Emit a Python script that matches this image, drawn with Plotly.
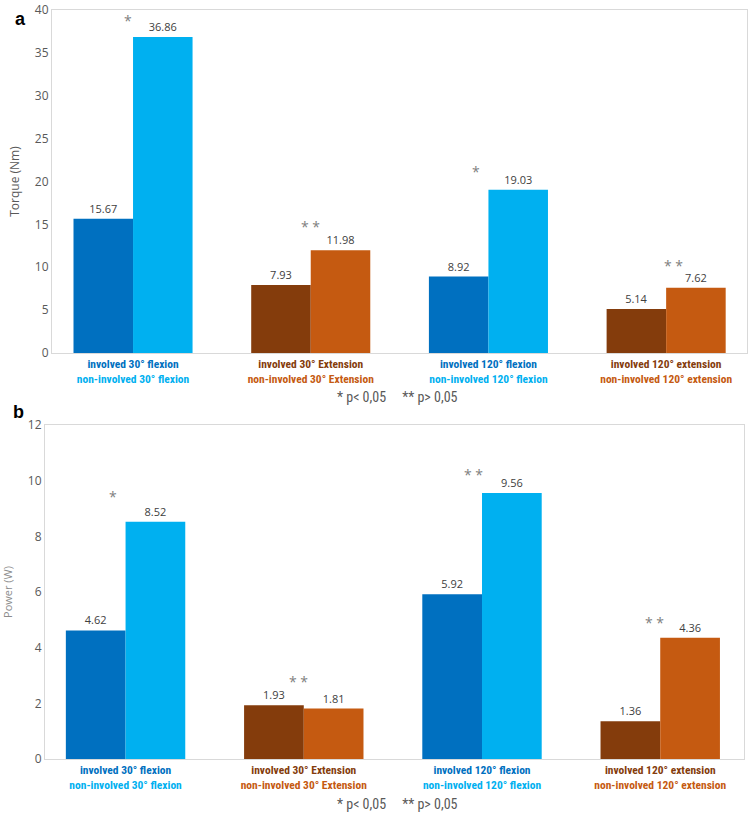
import plotly.graph_objects as go

# ---------------- data ----------------
categories = ["30° flexion", "30° Extension", "120° flexion", "120° extension"]
involved_labels = ["involved 30° flexion", "involved 30° Extension",
                   "involved 120° flexion", "involved 120° extension"]
noninvolved_labels = ["non-involved 30° flexion", "non-involved 30° Extension",
                      "non-involved 120° flexion", "non-involved 120° extension"]

torque_involved = [15.67, 7.93, 8.92, 5.14]
torque_noninvolved = [36.86, 11.98, 19.03, 7.62]
power_involved = [4.62, 1.93, 5.92, 1.36]
power_noninvolved = [8.52, 1.81, 9.56, 4.36]

torque_sig = ["*", "* *", "*", "* *"]
torque_sig_x = [-0.03, 1.0, 1.93, 3.04]
torque_sig_y = [38.8, 14.8, 21.2, 10.15]
power_sig = ["*", "* *", "* *", "* *"]
power_sig_x = [-0.07, 0.97, 1.95, 2.97]
power_sig_y = [9.44, 2.77, 10.23, 4.9]

footnote = "* p< 0,05&nbsp;&nbsp;&nbsp;&nbsp;&nbsp;** p> 0,05"

# ---------------- styles ----------------
inv_colors = ["#0070C0", "#843C0C", "#0070C0", "#843C0C"]
non_colors = ["#00B0F0", "#C55A11", "#00B0F0", "#C55A11"]
FONT = "Liberation Sans Narrow, Roboto Condensed, Arial Narrow, Roboto, sans-serif"
NUMFONT = "Open Sans, Roboto, sans-serif"
GRID = "#D9D9D9"

ticktext = [
    f"<b><span style='color:{inv_colors[i]}'>{involved_labels[i]}</span></b><br>"
    f"<b><span style='color:{non_colors[i]}'>{noninvolved_labels[i]}</span></b>"
    for i in range(4)
]
xs = list(range(len(categories)))

fig = go.Figure()
for (inv, non, xa, ya) in [(torque_involved, torque_noninvolved, "x", "y"),
                           (power_involved, power_noninvolved, "x2", "y2")]:
    fig.add_trace(go.Bar(x=xs, y=inv, marker=dict(color=inv_colors, line=dict(width=0)),
                         text=[f"{v:.2f}" for v in inv], textposition="outside",
                         textfont=dict(color="#404040", size=11, family=NUMFONT),
                         cliponaxis=False, xaxis=xa, yaxis=ya, showlegend=False))
    fig.add_trace(go.Bar(x=xs, y=non, marker=dict(color=non_colors, line=dict(width=0)),
                         text=[f"{v:.2f}" for v in non], textposition="outside",
                         textfont=dict(color="#404040", size=11, family=NUMFONT),
                         cliponaxis=False, xaxis=xa, yaxis=ya, showlegend=False))

axis_common = dict(showline=True, linecolor=GRID, linewidth=1, mirror=True,
                   showgrid=False, zeroline=False, ticks="", automargin=False)

fig.update_layout(
    template="none",
    width=749, height=813, margin=dict(l=0, r=0, t=0, b=0, pad=0),
    paper_bgcolor="white", plot_bgcolor="white",
    barmode="group", bargap=0.33, bargroupgap=0,
    font=dict(family=NUMFONT, color="#595959"),
    xaxis=dict(domain=[52/749, 747/749], anchor="y", range=[-0.456, 3.455],
               tickmode="array", tickvals=xs, ticktext=ticktext,
               tickfont=dict(size=11.5, family=FONT), **axis_common),
    yaxis=dict(domain=[1-353/813, 1-10/813], anchor="x", range=[0, 40], dtick=5,
               tickfont=dict(size=12, color="#595959"),
               title=dict(text="Torque (Nm)", font=dict(size=12, color="#595959"), standoff=12),
               **axis_common),
    xaxis2=dict(domain=[45/749, 744/749], anchor="y2", range=[-0.452, 3.47],
                tickmode="array", tickvals=xs, ticktext=ticktext,
                tickfont=dict(size=11.5, family=FONT), **axis_common),
    yaxis2=dict(domain=[1-759/813, 1-425/813], anchor="x2", range=[0, 12], dtick=2,
                tickfont=dict(size=12, color="#595959"),
                title=dict(text="Power (W)", font=dict(size=11, color="#8c8c8c"), standoff=14),
                **axis_common),
)

ann = []
for t, x, y in zip(torque_sig, torque_sig_x, torque_sig_y):
    ann.append(dict(x=x, y=y, xref="x", yref="y", text=t, showarrow=False,
                    font=dict(size=14, color="#808080")))
for t, x, y in zip(power_sig, power_sig_x, power_sig_y):
    ann.append(dict(x=x, y=y, xref="x2", yref="y2", text=t, showarrow=False,
                    font=dict(size=14, color="#808080")))
ann.append(dict(x=397/749, y=1-397/813, xref="paper", yref="paper", text=footnote,
                showarrow=False, font=dict(size=14, color="#595959", family=FONT)))
ann.append(dict(x=397/749, y=0, xref="paper", yref="paper", yanchor="bottom", text=footnote,
                showarrow=False, borderpad=0,
                font=dict(size=14, color="#595959", family=FONT)))
ann.append(dict(x=13/749, y=1-7/813, xref="paper", yref="paper", text="<b>a</b>",
                showarrow=False, font=dict(size=18, color="black", family="Arial, Liberation Sans, sans-serif")))
ann.append(dict(x=11/749, y=1-412/813, xref="paper", yref="paper", text="<b>b</b>",
                showarrow=False, font=dict(size=18, color="black", family="Arial, Liberation Sans, sans-serif")))
fig.update_layout(annotations=ann)

fig.write_html("out.html")
